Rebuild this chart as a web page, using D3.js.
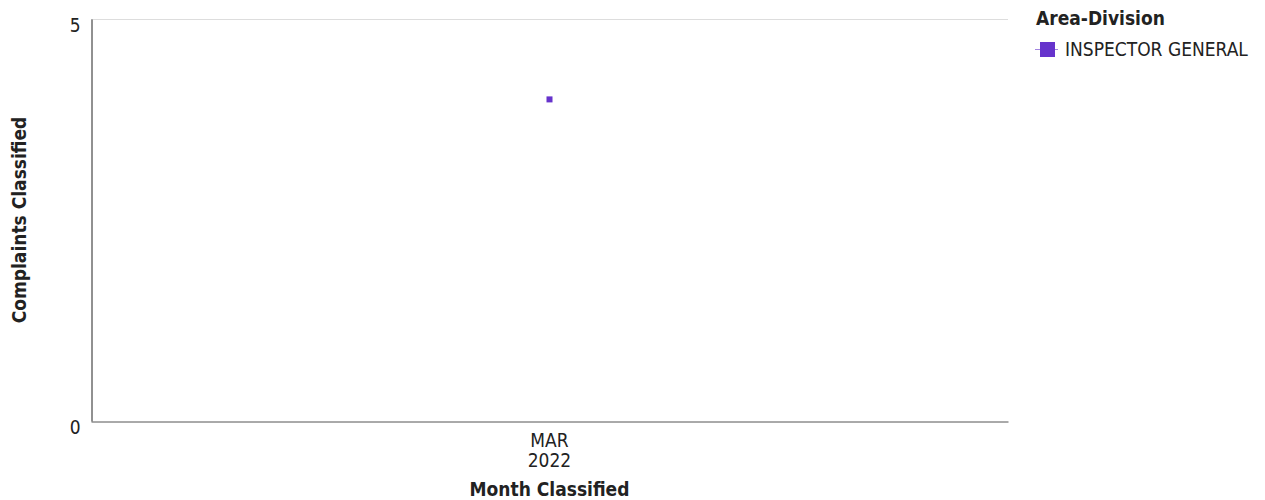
<!DOCTYPE html>
<html><head><meta charset="utf-8">
<script src="https://cdn.jsdelivr.net/npm/d3@7"></script>
<style>
body{margin:0;background:#fff;}
text{font-family:"DejaVu Sans Condensed","DejaVu Sans",sans-serif;}
</style></head>
<body><svg id="c" width="1265" height="500"></svg>
<script>
const categories = ["MAR 2022"];
const seriesName = "INSPECTOR GENERAL";
const values = [4];
const yTicks = [0, 5];
const color = "#6633cc";
const FS = 19;

const svg = d3.select("#c");
const m = {l:91, r:1008, t:19, b:421};
const x = d3.scalePoint().domain(categories).range([m.l, m.r]).padding(0.5);
const y = d3.scaleLinear().domain([0,5]).range([m.b, m.t]);

// top grid line
svg.append("g").selectAll("line").data(yTicks.filter(d=>d>0)).join("line")
  .attr("x1", m.l).attr("x2", m.r).attr("y1", d=>y(d)+0.5).attr("y2", d=>y(d)+0.5)
  .attr("stroke","#dddddd");

// y axis
const ya = svg.append("g").attr("transform",`translate(${m.l+0.5},0)`)
  .call(d3.axisLeft(y).tickValues(yTicks).tickFormat(d3.format("d")).tickSize(0).tickPadding(11));
ya.select(".domain").attr("stroke","#222");
ya.selectAll("text").attr("font-size",FS).attr("fill","#222").attr("dy",null)
  .attr("y",12).attr("font-family",'"DejaVu Sans Condensed","DejaVu Sans",sans-serif');

// x axis
const xa = svg.append("g").attr("transform",`translate(0,${m.b+0.5})`)
  .call(d3.axisBottom(x).tickSize(0).tickFormat(""));
xa.select(".domain").attr("stroke","#555");
categories.forEach(c=>{
  const parts = c.split(" ");
  const t = svg.append("text").attr("x", x(c)).attr("y", 447).attr("text-anchor","middle")
    .attr("font-size",FS).attr("fill","#222");
  parts.forEach((p,i)=>t.append("tspan").attr("x",x(c)).attr("dy", i?20:0).text(p));
});

// points
svg.append("g").selectAll("rect").data(values).join("rect")
  .attr("x",(d,i)=>x(categories[i])-3).attr("y",d=>y(d)-3)
  .attr("width",6).attr("height",6).attr("fill",color);

// axis titles
svg.append("text").attr("x", (m.l+m.r)/2).attr("y",496).attr("text-anchor","middle")
  .attr("font-size",FS).attr("font-weight","bold").attr("fill","#222").text("Month Classified");
svg.append("text").attr("transform",`translate(26,${(m.t+m.b)/2}) rotate(-90)`).attr("text-anchor","middle")
  .attr("font-size",FS).attr("font-weight","bold").attr("fill","#222").text("Complaints Classified");

// legend
svg.append("text").attr("x",1036).attr("y",25).attr("font-size",FS).attr("font-weight","bold").attr("fill","#222").text("Area-Division");
const lg = svg.append("g");
lg.append("line").attr("x1",1035).attr("x2",1058).attr("y1",49.5).attr("y2",49.5).attr("stroke",color).attr("stroke-width",1).attr("opacity",0.6);
lg.append("rect").attr("x",1040).attr("y",42).attr("width",15).attr("height",15).attr("fill",color);
lg.append("text").attr("x",1065).attr("y",56).attr("font-size",FS).attr("fill","#222").text(seriesName);
</script></body></html>
